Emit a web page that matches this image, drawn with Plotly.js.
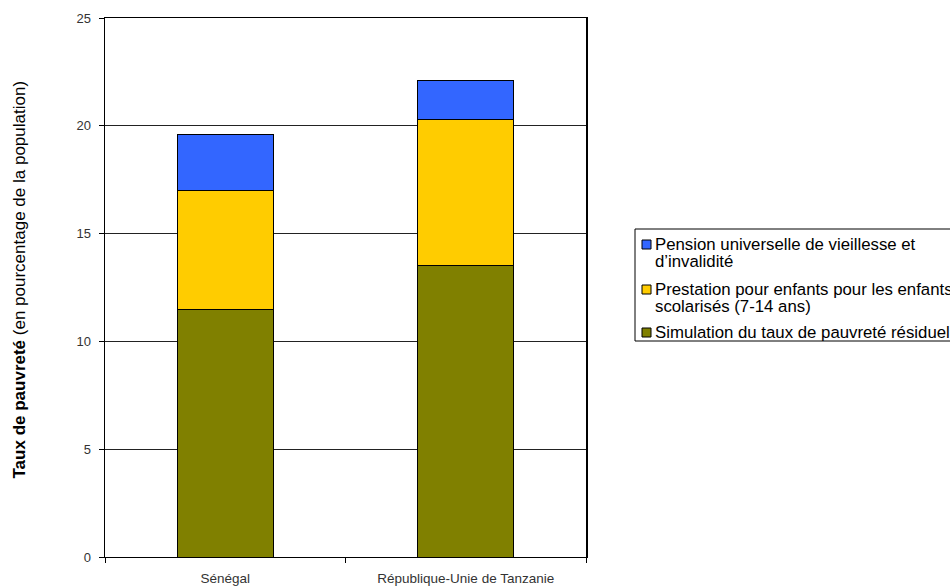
<!DOCTYPE html>
<html>
<head>
<meta charset="utf-8">
<script src="https://cdn.plot.ly/plotly-3.0.1.min.js"></script>
<style>
  html, body { margin: 0; padding: 0; background: #ffffff; }
  #chart { width: 950px; height: 586px; }
</style>
</head>
<body>
<div id="chart"></div>
<script>
// Countries on the category axis
const countries = ["Sénégal", "République-Unie de Tanzanie"];

// Stacked components of the poverty rate (% of population)
const residualPoverty  = [11.5, 13.5];  // Simulation du taux de pauvreté résiduel
const childBenefit     = [5.5, 6.8];    // Prestation pour enfants scolarisés (7-14 ans)
const universalPension = [2.6, 1.8];    // Pension universelle de vieillesse et d'invalidité

// Legend labels, one array of text lines per series (top to bottom in the key)
const legendLines = [
  ["Pension universelle de vieillesse et", "d’invalidité"],
  ["Prestation pour enfants pour les enfants", "scolarisés (7-14 ans)"],
  ["Simulation du taux de pauvreté résiduel"]
];
const seriesColors = ["#3366FF", "#FFCC00", "#808000"];

const yTicks = [0, 5, 10, 15, 20, 25];

// Plot-area geometry in pixels, used to place the hand-built key
const W = 950, H = 586;
const M = { l: 105, r: 364, t: 18, b: 29 };
const pw = W - M.l - M.r, ph = H - M.t - M.b;
const px = v => (v - M.l) / pw;
const py = v => (H - M.b - v) / ph;

const barLine = { color: "#000000", width: 1 };

const traces = [
  { type: "bar", name: legendLines[2].join(" "), x: countries, y: residualPoverty,
    marker: { color: seriesColors[2], line: barLine } },
  { type: "bar", name: legendLines[1].join(" "), x: countries, y: childBenefit,
    marker: { color: seriesColors[1], line: barLine } },
  { type: "bar", name: legendLines[0].join(" "), x: countries, y: universalPension,
    marker: { color: seriesColors[0], line: barLine } }
];

// Key: framed box, small swatches and text lines
const shapes = [
  { type: "rect", xref: "paper", yref: "paper",
    x0: px(635), x1: px(980), y0: py(229), y1: py(341),
    line: { color: "#000000", width: 1 }, fillcolor: "#ffffff", layer: "above" }
];
const annotations = [];
const entryTop = [250, 295, 338];   // baseline of first line of each entry
const lineStep = 17;
legendLines.forEach((lines, i) => {
  const base = entryTop[i];
  shapes.push({
    type: "rect", xref: "paper", yref: "paper",
    x0: px(642), x1: px(651), y0: py(base - 10), y1: py(base - 1),
    line: { color: "#000000", width: 1 }, fillcolor: seriesColors[i], layer: "above"
  });
  lines.forEach((t, j) => {
    annotations.push({
      xref: "paper", yref: "paper",
      x: px(653), y: py(base + j * lineStep - 5.5),
      xanchor: "left", yanchor: "middle",
      showarrow: false, text: t,
      font: { size: 16.8, color: "#000000" }
    });
  });
});

// Rotated y-axis title with a bold lead
annotations.push({
  xref: "paper", yref: "paper",
  x: px(19), y: py(279.5),
  xanchor: "center", yanchor: "middle",
  textangle: -90, showarrow: false,
  text: "<b>Taux de pauvreté</b> (en pourcentage de la population)",
  font: { size: 17, color: "#000000" }
});

const layout = {
  width: W,
  height: H,
  paper_bgcolor: "#ffffff",
  plot_bgcolor: "#ffffff",
  barmode: "stack",
  bargap: 0.6,
  margin: { l: M.l, r: M.r, t: M.t, b: M.b, autoexpand: false },
  font: { family: "Liberation Sans, Arial, sans-serif", color: "#000000" },
  showlegend: false,
  xaxis: {
    type: "category",
    showline: true,
    linecolor: "#000000",
    linewidth: 1,
    mirror: true,
    ticks: "outside",
    tickson: "boundaries",
    ticklen: 5,
    tickcolor: "#000000",
    ticklabelstandoff: 9,
    tickfont: { size: 13.5, color: "#333333" },
    showgrid: false,
    zeroline: false,
    fixedrange: true
  },
  yaxis: {
    range: [0, 25],
    tickvals: yTicks,
    ticktext: yTicks.map(String),
    showline: true,
    linecolor: "#000000",
    linewidth: 1.5,
    mirror: true,
    ticks: "outside",
    ticklen: 5,
    tickcolor: "#000000",
    ticklabelstandoff: 5,
    tickfont: { size: 13, color: "#333333" },
    showgrid: true,
    gridcolor: "#222222",
    gridwidth: 1,
    zeroline: false,
    fixedrange: true
  },
  shapes: shapes,
  annotations: annotations
};

Plotly.newPlot("chart", traces, layout, { displayModeBar: false, staticPlot: true });
</script>
</body>
</html>
